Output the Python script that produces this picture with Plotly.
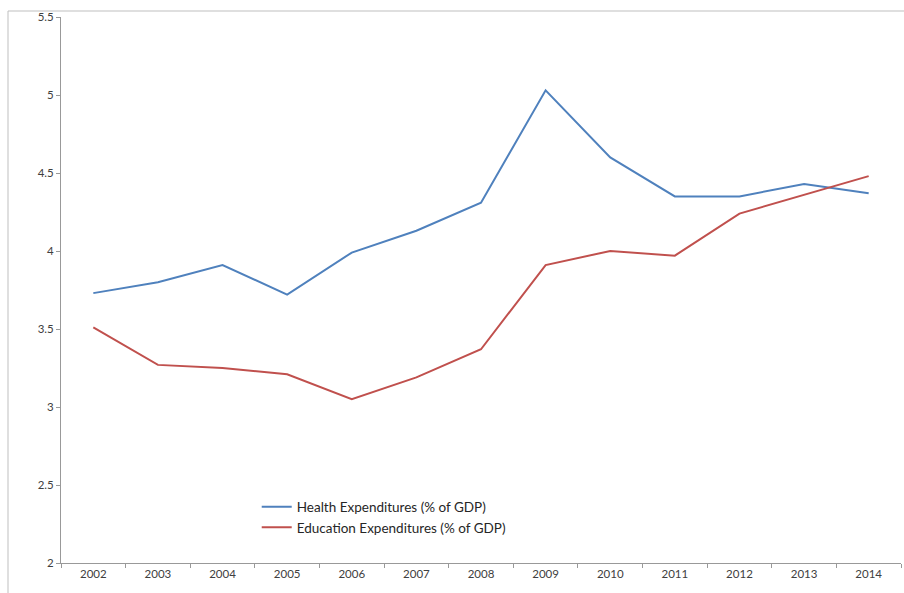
import plotly.graph_objects as go

years = ["2002", "2003", "2004", "2005", "2006", "2007", "2008", "2009", "2010", "2011", "2012", "2013", "2014"]
health = [3.73, 3.80, 3.91, 3.72, 3.99, 4.13, 4.31, 5.03, 4.60, 4.35, 4.35, 4.43, 4.37]
education = [3.51, 3.27, 3.25, 3.21, 3.05, 3.19, 3.37, 3.91, 4.00, 3.97, 4.24, 4.36, 4.48]
y_ticks = [2, 2.5, 3, 3.5, 4, 4.5, 5, 5.5]

fig = go.Figure()
fig.add_trace(go.Scatter(x=years, y=health, mode="lines", name="Health Expenditures (% of GDP)",
                         line=dict(color="#4F81BD", width=2)))
fig.add_trace(go.Scatter(x=years, y=education, mode="lines", name="Education Expenditures (% of GDP)",
                         line=dict(color="#C0504D", width=2)))

axis_font = dict(family="Lato, Open Sans, sans-serif", size=11.5, color="#404040")
fig.update_layout(
    width=904, height=593,
    margin=dict(l=61, r=3, t=17, b=30),
    paper_bgcolor="white", plot_bgcolor="white",
    showlegend=True,
    legend=dict(x=0.233, y=0.131, xanchor="left", yanchor="top",
                bgcolor="rgba(0,0,0,0)", font=dict(family="Lato, Open Sans, sans-serif", size=13.5, color="#262626"),
                tracegroupgap=2, itemwidth=30),
    xaxis=dict(type="category", showgrid=False, showline=True, linecolor="#999999", linewidth=1,
               ticks="outside", tickson="boundaries", ticklen=4, tickcolor="#999999",
               tickfont=axis_font, range=[-0.5, 12.5], fixedrange=True),
    yaxis=dict(range=[2, 5.5], tickvals=y_ticks, ticktext=[str(v) if v != int(v) else str(int(v)) for v in y_ticks],
               showgrid=False, showline=True, linecolor="#999999", linewidth=1,
               ticks="outside", ticklen=4, tickcolor="#999999", tickfont=axis_font, zeroline=False),
    shapes=[dict(type="rect", xref="paper", yref="paper",
                 x0=(8 - 61) / 840, x1=1.2, y0=-0.2, y1=(563 - 11) / 546,
                 line=dict(color="#BFBFBF", width=1), fillcolor="rgba(0,0,0,0)", layer="below")],
)
fig.write_html("out.html")
